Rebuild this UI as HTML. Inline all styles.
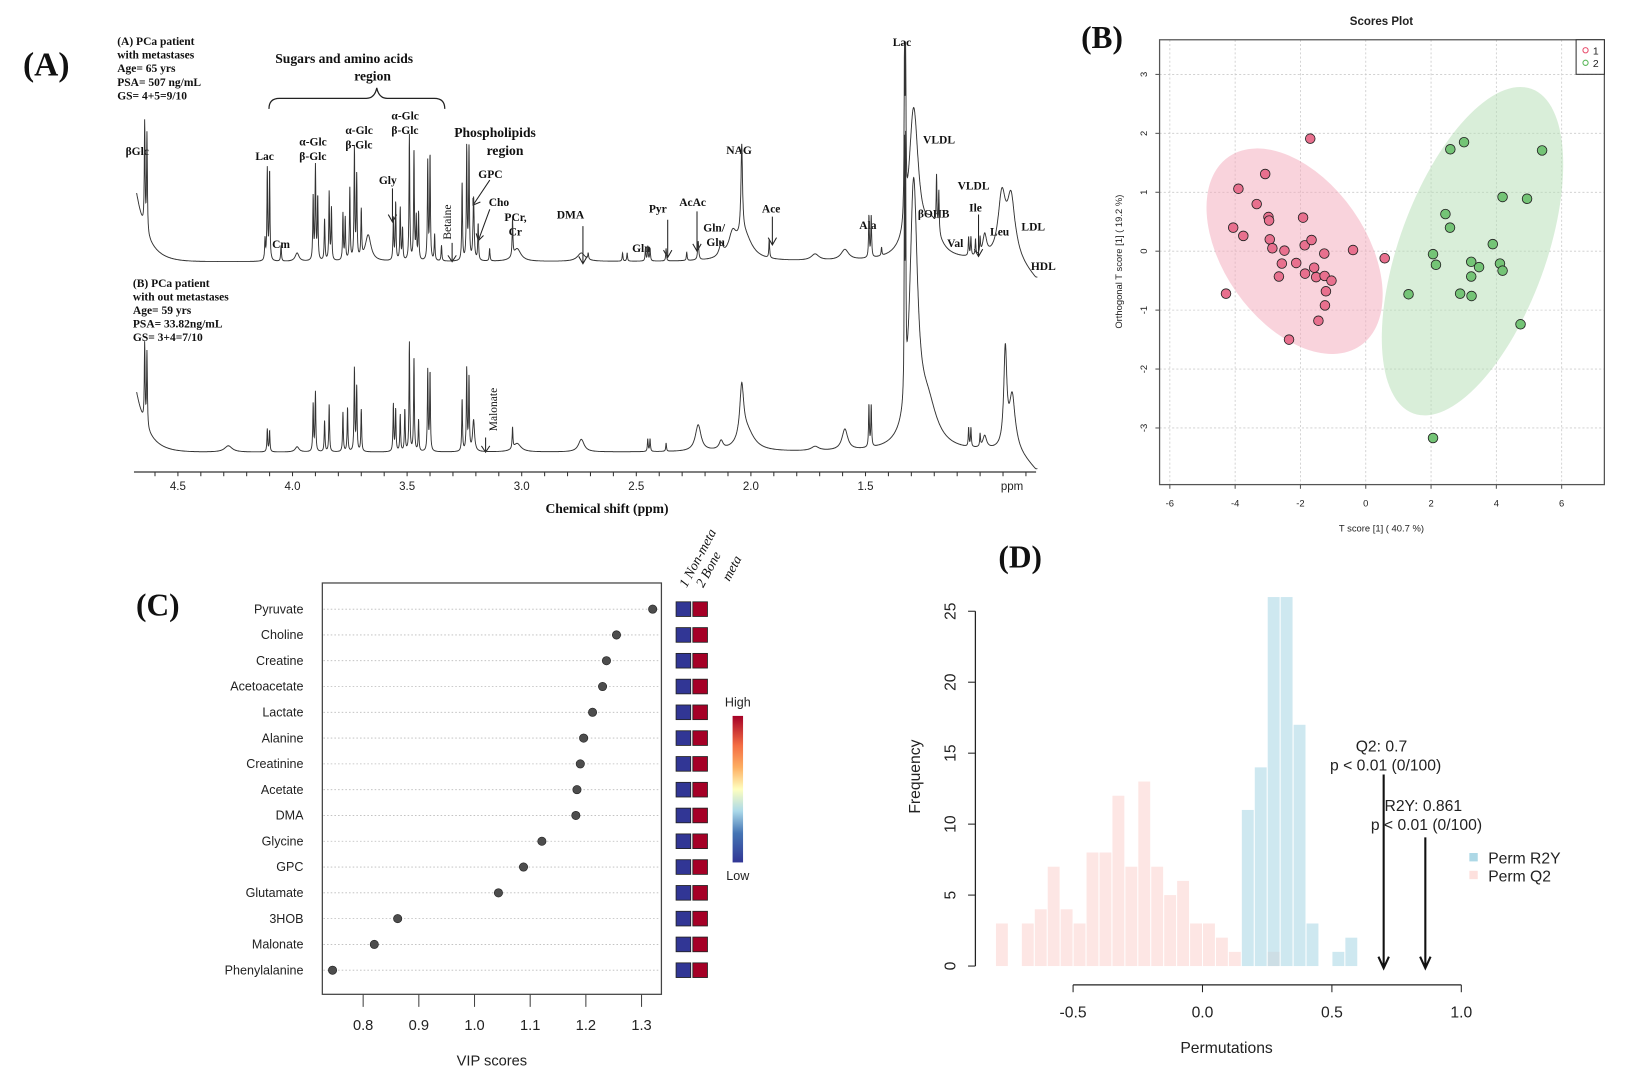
<!DOCTYPE html>
<html><head><meta charset="utf-8">
<style>
html,body{margin:0;padding:0;background:#fff;}
svg{display:block;}
.ser{font-family:"Liberation Serif",serif;font-weight:bold;fill:#111;}
.san{font-family:"Liberation Sans",sans-serif;fill:#222;}
</style></head>
<body>
<svg id="fig" width="1641" height="1086" viewBox="0 0 1568 1037.6" preserveAspectRatio="none" xmlns="http://www.w3.org/2000/svg">
<g id="gA">
  <text class="ser" x="22" y="72" font-size="32">(A)</text>
  <g class="ser" font-size="11">
    <text x="112" y="43">(A) PCa patient</text><text x="112" y="56">with metastases</text>
    <text x="112" y="69">Age= 65 yrs</text><text x="112" y="82">PSA= 507 ng/mL</text><text x="112" y="95">GS= 4+5=9/10</text>
  </g>
  <g class="ser" font-size="11">
    <text x="127" y="274">(B) PCa patient</text><text x="127" y="287">with out metastases</text>
    <text x="127" y="300">Age= 59 yrs</text><text x="127" y="313">PSA= 33.82ng/mL</text><text x="127" y="326">GS= 3+4=7/10</text>
  </g>
  <text class="ser" x="263" y="60" font-size="13">Sugars  and amino acids</text>
  <text class="ser" x="356" y="77" font-size="13" text-anchor="middle">region</text>
  <path d="M257,104 Q257,94 267,94 L350,94 Q358,94 360,84 Q362,94 370,94 L415,94 Q425,94 425,104" fill="none" stroke="#222" stroke-width="1.2"/>
  <text class="ser" x="434" y="131" font-size="13">Phospholipids</text>
  <text class="ser" x="465" y="148" font-size="13">region</text>
  <g class="ser" font-size="11">
    <text x="120" y="148">βGlc</text><text x="244" y="153">Lac</text><text x="260" y="237">Cm</text>
    <text x="286" y="139">α-Glc</text><text x="286" y="153">β-Glc</text>
    <text x="330" y="128">α-Glc</text><text x="330" y="142">β-Glc</text>
    <text x="374" y="114">α-Glc</text><text x="374" y="128">β-Glc</text>
    <text x="362" y="176">Gly</text><text x="457" y="170">GPC</text><text x="467" y="197">Cho</text>
    <text x="482" y="211">PCr,</text><text x="486" y="225">Cr</text>
    <text x="532" y="209">DMA</text><text x="620" y="203">Pyr</text><text x="649" y="197">AcAc</text>
    <text x="604" y="241">Gln</text><text x="672" y="221">Gln/</text><text x="675" y="235">Glu</text>
    <text x="694" y="147">NAG</text><text x="728" y="203">Ace</text><text x="821" y="219">Ala</text>
    <text x="853" y="44">Lac</text><text x="882" y="137">VLDL</text><text x="915" y="181">VLDL</text>
    <text x="877" y="208">βOHB</text><text x="926" y="202">Ile</text><text x="905" y="236">Val</text>
    <text x="946" y="225">Leu</text><text x="976" y="220">LDL</text><text x="985" y="258">HDL</text>
    <text transform="translate(431,229) rotate(-90)" font-weight="normal">Betaine</text>
    <text transform="translate(475,412) rotate(-90)" font-weight="normal">Malonate</text>
  </g>
  <g stroke="#222" stroke-width="1" fill="none">
    <path d="M375,180 L375,212 M371,205 L375,212 L379,205"/>
    <path d="M432,232 L432,250 M428,244 L432,250 L436,244"/>
    <path d="M468,172 L452,196 M452,189 L452,196 L459,193"/>
    <path d="M468,200 L457,230 M455,223 L457,230 L462,225"/>
    <path d="M557,216 L557,252 M553,245 L557,252 L561,245"/>
    <path d="M638,210 L638,246 M634,239 L638,246 L642,239"/>
    <path d="M666,202 L666,240 M662,233 L666,240 L670,233"/>
    <path d="M738,207 L738,234 M734,227 L738,234 L742,227"/>
    <path d="M935,205 L935,245 M931,238 L935,245 L939,238"/>
    <path d="M464,418 L464,432 M460,426 L464,432 L468,426"/>
  </g>
  <g id="specs"></g>
  <g id="axA"></g>
  <text class="ser" x="580" y="490" font-size="13" text-anchor="middle">Chemical shift (ppm)</text>
</g>

<g id="gB">
  <text class="ser" x="1033" y="46" font-size="30">(B)</text>
  <text class="san" x="1320" y="24" font-size="11" font-weight="bold" text-anchor="middle">Scores Plot</text>
  <text class="san" transform="translate(1072,250) rotate(-90)" font-size="9" text-anchor="middle">Orthogonal T score [1] ( 19.2 %)</text>
  <text class="san" x="1320" y="508" font-size="9" text-anchor="middle">T score [1] ( 40.7 %)</text>
  <g id="plotB"></g>
</g>

<g id="gC">
  <text class="ser" x="130" y="588" font-size="30">(C)</text>
  <text class="san" x="470" y="1018" font-size="14" text-anchor="middle">VIP scores</text>
  <g font-family="Liberation Serif,serif" font-style="italic" font-size="13" fill="#111">
    <text transform="translate(656,562) rotate(-62)">1 Non-meta</text>
    <text transform="translate(672,562) rotate(-62)">2 Bone</text>
    <text transform="translate(697,556) rotate(-62)">meta</text>
  </g>
  <defs><linearGradient id="rdylbu" x1="0" y1="1" x2="0" y2="0">
    <stop offset="0" stop-color="#313695"/><stop offset="0.2" stop-color="#4575b4"/><stop offset="0.35" stop-color="#abd9e9"/>
    <stop offset="0.5" stop-color="#ffffbf"/><stop offset="0.65" stop-color="#fdae61"/><stop offset="0.8" stop-color="#f46d43"/><stop offset="1" stop-color="#a50026"/>
  </linearGradient></defs>
  <rect x="700" y="684" width="10" height="140" fill="url(#rdylbu)"/>
  <text class="san" x="705" y="675" font-size="12" text-anchor="middle">High</text>
  <text class="san" x="705" y="841" font-size="12" text-anchor="middle">Low</text>
  <g id="plotC"></g>
</g>

<g id="gD">
  <text class="ser" x="954" y="542" font-size="30">(D)</text>
  <text class="san" transform="translate(879,742) rotate(-90)" font-size="15" text-anchor="middle">Frequency</text>
  <text class="san" x="1172" y="1006" font-size="15" text-anchor="middle">Permutations</text>
  <g id="plotD"></g>
</g>
</svg>
<script>
// ---------- Panel A data ----------
const topPeaks = [[4.645,100,.002],[4.635,95,.002],[4.12,20,.002],[4.11,88,.002],[4.10,85,.002],[4.05,15,.002],[3.98,8,.01],[3.91,60,.002],[3.90,90,.002],[3.89,60,.002],[3.86,40,.002],[3.84,65,.002],[3.83,50,.002],[3.78,45,.002],[3.77,40,.002],[3.75,70,.002],[3.73,105,.002],[3.72,80,.002],[3.70,45,.002],[3.67,25,.015],[3.56,40,.002],[3.55,55,.002],[3.53,50,.002],[3.52,30,.002],[3.49,120,.002],[3.47,105,.002],[3.46,40,.002],[3.45,45,.002],[3.41,95,.002],[3.40,100,.002],[3.38,25,.002],[3.35,15,.002],[3.26,75,.002],[3.24,107,.002],[3.23,108,.002],[3.21,60,.003],[3.19,35,.002],[3.14,12,.002],[3.04,35,.002],[3.02,12,.02],[2.74,8,.02],[2.71,6,.002],[2.56,8,.002],[2.54,8,.002],[2.46,12,.002],[2.45,14,.002],[2.44,12,.002],[2.37,12,.002],[2.28,8,.002],[2.23,18,.003],[2.13,12,.01],[2.08,20,.02],[2.04,85,.004],[2.03,25,.04],[1.92,18,.002],[1.72,6,.02],[1.59,10,.02],[1.485,40,.002],[1.475,40,.002],[1.43,8,.002],[1.33,145,.002],[1.325,140,.002],[1.29,140,.025],[1.21,30,.04],[1.19,50,.002],[1.18,40,.002],[1.05,18,.002],[1.04,18,.002],[1.02,15,.002],[1.00,15,.002],[0.98,20,.01],[0.905,58,.02],[0.865,55,.02]];
const botPeaks = [[4.645,75,.002],[4.635,72,.002],[4.28,6,.02],[4.11,22,.002],[4.10,20,.002],[3.98,5,.01],[3.91,45,.002],[3.90,57,.002],[3.86,30,.002],[3.84,45,.002],[3.78,38,.002],[3.76,42,.002],[3.73,79,.002],[3.72,62,.002],[3.70,40,.002],[3.56,45,.002],[3.55,40,.002],[3.53,35,.002],[3.51,40,.002],[3.49,104,.002],[3.47,90,.002],[3.45,30,.002],[3.41,78,.002],[3.40,75,.002],[3.26,50,.002],[3.24,78,.002],[3.23,70,.002],[3.21,30,.005],[3.04,20,.002],[3.02,8,.02],[2.74,12,.015],[2.45,12,.002],[2.44,12,.002],[2.37,8,.002],[2.23,25,.015],[2.13,8,.01],[2.04,50,.01],[2.02,20,.04],[1.72,4,.02],[1.59,20,.015],[1.485,40,.002],[1.475,40,.002],[1.33,230,.0015],[1.325,220,.0015],[1.29,245,.02],[1.23,40,.05],[1.05,18,.002],[1.04,18,.002],[1.00,12,.002],[0.98,12,.01],[0.89,92,.008],[0.86,50,.015]];
const ppmTicks = [4.5,4.0,3.5,3.0,2.5,2.0,1.5];
const ppmTickLabels = ["4.5","4.0","3.5","3.0","2.5","2.0","1.5"];

// ---------- Panel B data ----------
const group1X = [-1.70,-3.08,-3.90,-3.34,-2.98,-2.96,-1.92,-4.06,-3.75,-2.94,-2.86,-2.49,-1.87,-1.66,-1.27,-0.39,0.58,-2.57,-2.13,-1.58,-1.86,-1.52,-1.26,-1.05,-2.66,-1.22,-1.25,-4.28,-1.45,-2.35];
const group1Y = [1.91,1.31,1.06,0.80,0.58,0.52,0.57,0.40,0.26,0.20,0.05,0.01,0.10,0.19,-0.04,0.02,-0.12,-0.21,-0.20,-0.28,-0.38,-0.44,-0.42,-0.50,-0.43,-0.68,-0.92,-0.72,-1.18,-1.50];
const group2X = [3.01,2.59,5.40,4.19,4.94,2.44,2.58,3.89,2.06,2.15,3.23,3.47,4.11,4.19,3.23,1.31,2.89,3.24,4.74,2.06];
const group2Y = [1.85,1.73,1.71,0.92,0.89,0.63,0.40,0.12,-0.05,-0.23,-0.18,-0.27,-0.21,-0.33,-0.43,-0.73,-0.72,-0.76,-1.24,-3.17];
const scoreTicks = [-6,-4,-2,0,2,4,6];
const orthoTicks = [-3,-2,-1,0,1,2,3];

// ---------- Panel C data ----------
const metabolites = ["Pyruvate","Choline","Creatine","Acetoacetate","Lactate","Alanine","Creatinine","Acetate","DMA","Glycine","GPC","Glutamate","3HOB","Malonate","Phenylalanine"];
const vipScores = [1.320,1.255,1.237,1.230,1.212,1.196,1.190,1.184,1.182,1.121,1.088,1.043,0.862,0.820,0.745];
const vipTicks = [0.8,0.9,1.0,1.1,1.2,1.3];
const vipTickLabels = ["0.8","0.9","1.0","1.1","1.2","1.3"];

// ---------- Panel D data ----------
const binStarts = [-0.80,-0.75,-0.70,-0.65,-0.60,-0.55,-0.50,-0.45,-0.40,-0.35,-0.30,-0.25,-0.20,-0.15,-0.10,-0.05,0.00,0.05,0.10,0.15,0.20,0.25,0.30,0.35,0.40,0.45,0.50,0.55];
const permQ2 = [3,0,3,4,7,4,3,8,8,12,7,13,7,5,6,3,3,2,1,0,0,1,0,0,0,0,0,0];
const permR2Y = [0,0,0,0,0,0,0,0,0,0,0,0,0,0,0,0,0,0,0,11,14,26,26,17,3,0,1,2];
const freqTicks = [0,5,10,15,20,25];
const permTicks = [-0.5,0.0,0.5,1.0];
const permTickLabels = ["-0.5","0.0","0.5","1.0"];
const q2Value = 0.7, r2yValue = 0.861;

const NS = "http://www.w3.org/2000/svg";
function el(tag, attrs, parent){ const e=document.createElementNS(NS,tag); for(const k in attrs) e.setAttribute(k,attrs[k]); parent.appendChild(e); return e; }

// ===== Panel A =====
(function(){
  const g=document.getElementById('specs');
  const xP = p => 170 + (4.5-p)*219;
  function spectrum(peaks, base, rise, name){
    let d='';
    for(let p=4.68; p>=0.75; p-=0.0007){
      let v=rise*Math.exp(-(4.68-p)/0.05);
      for(const [c,h,w] of peaks){ const dx=p-c; v+=h*w*w/(dx*dx+w*w); }
      let b=base + (p<0.84 ? Math.min((0.84-p)*220,18) : 0);
      d+=(d?'L':'M')+xP(p).toFixed(1)+','+(b-v).toFixed(1);
    }
    const path=el('path',{d:d,fill:'none',stroke:'#333','stroke-width':0.9},g);
    
    
  }
  spectrum(topPeaks,250,65,'spectrum-with-metastases');
  spectrum(botPeaks,432,57,'spectrum-without-metastases');
  const ax=document.getElementById('axA');
  el('line',{x1:128,x2:990,y1:451,y2:451,stroke:'#333','stroke-width':1.2},ax);
  for(let p=4.6;p>=0.79;p-=0.1){ const x=xP(p); el('line',{x1:x,x2:x,y1:451,y2:455,stroke:'#333'},ax); }
  ppmTicks.forEach((t,i)=>{ const tx=el('text',{x:xP(t),y:468,'font-size':11,'text-anchor':'middle',class:'san'},ax); tx.textContent=ppmTickLabels[i];
    
     });
  const pu=el('text',{x:967,y:468,'font-size':11,'text-anchor':'middle',class:'san'},ax); pu.textContent='ppm';
  
  
})();

// ===== Panel B =====
(function(){
  const g=document.getElementById('plotB');
  const X=v=>1305+v*31.2, Y=v=>240-v*56.3;
  const L=1108,R=1533,T=38,B=463;
  scoreTicks.forEach(t=>{ el('line',{x1:X(t),x2:X(t),y1:T,y2:B,stroke:'#ccc','stroke-dasharray':'2,2','stroke-width':0.8},g); });
  orthoTicks.forEach(t=>{ el('line',{x1:L,x2:R,y1:Y(t),y2:Y(t),stroke:'#ccc','stroke-dasharray':'2,2','stroke-width':0.8},g); });
  const e1=el('ellipse',{cx:1237,cy:240,rx:110,ry:68,transform:'rotate(55 1237 240)',fill:'#f4a7b9','fill-opacity':0.5},g);
  
  
  const e2=el('ellipse',{cx:1407,cy:240,rx:165,ry:70,transform:'rotate(-70 1407 240)',fill:'#b3deb3','fill-opacity':0.5},g);
  
  
  group1X.forEach((v,i)=>{ const c=el('circle',{cx:X(v),cy:Y(group1Y[i]),r:4.6,fill:'#e8708e',stroke:'#222','stroke-width':0.8},g);
    
     });
  group2X.forEach((v,i)=>{ const c=el('circle',{cx:X(v),cy:Y(group2Y[i]),r:4.6,fill:'#74c476',stroke:'#222','stroke-width':0.8},g);
    
     });
  el('rect',{x:L,y:T,width:R-L,height:B-T,fill:'none',stroke:'#555','stroke-width':1.2},g);
  scoreTicks.forEach(t=>{ el('line',{x1:X(t),x2:X(t),y1:B,y2:B+4,stroke:'#555'},g);
    const tx=el('text',{x:X(t),y:484,'font-size':9,'text-anchor':'middle',class:'san'},g); tx.textContent=t;
    
     });
  orthoTicks.forEach(t=>{ el('line',{x1:L-4,x2:L,y1:Y(t),y2:Y(t),stroke:'#555'},g);
    const tx=el('text',{transform:`translate(1096,${Y(t)}) rotate(-90)`,'font-size':9,'text-anchor':'middle',class:'san'},g); tx.textContent=t;
    
     });
  const lg=el('g',{},g);
  
  
  el('rect',{x:1506,y:38,width:27,height:33,fill:'#fff',stroke:'#333'},lg);
  el('circle',{cx:1515,cy:48,r:2.5,fill:'none',stroke:'#e8506e'},lg);
  el('circle',{cx:1515,cy:60,r:2.5,fill:'none',stroke:'#5cb85c'},lg);
  const t1=el('text',{x:1522,y:52,'font-size':10,class:'san'},lg); t1.textContent='1';
  const t2=el('text',{x:1522,y:64,'font-size':10,class:'san'},lg); t2.textContent='2';
})();

// ===== Panel C =====
(function(){
  const g=document.getElementById('plotC');
  const X=v=>347+(v-0.8)*532, Y=i=>582+i*24.64;
  el('rect',{x:308,y:557,width:324,height:393,fill:'none',stroke:'#444','stroke-width':1.2},g);
  metabolites.forEach((m,i)=>{
    el('line',{x1:309,x2:631,y1:Y(i),y2:Y(i),stroke:'#bbb','stroke-dasharray':'1.5,2','stroke-width':0.8},g);
    const t=el('text',{x:290,y:Y(i)+4,'font-size':12,'text-anchor':'end',class:'san'},g); t.textContent=m;
    
    
    const c=el('circle',{cx:X(vipScores[i]),cy:Y(i),r:4,fill:'#4d4d4d',stroke:'#222','stroke-width':0.6},g);
    
    
    const b=el('rect',{x:646,y:Y(i)-7,width:14,height:14,fill:'#313695',stroke:'#222','stroke-width':0.8},g);
    
    
    const r=el('rect',{x:662,y:Y(i)-7,width:14,height:14,fill:'#a50026',stroke:'#222','stroke-width':0.8},g);
    
    
  });
  vipTicks.forEach((t,i)=>{ el('line',{x1:X(t),x2:X(t),y1:950,y2:962,stroke:'#444'},g);
    const tx=el('text',{x:X(t),y:984,'font-size':14,'text-anchor':'middle',class:'san'},g); tx.textContent=vipTickLabels[i];
    
     });
})();

// ===== Panel D =====
(function(){
  const g=document.getElementById('plotD');
  const X=v=>1149+v*247.3, Y=v=>923-v*13.56, bw=0.05;
  binStarts.forEach((s,i)=>{
    if(permQ2[i]>0){ const r=el('rect',{x:X(s)+0.5,y:Y(permQ2[i]),width:bw*247.3-1,height:permQ2[i]*13.56,fill:'#fde6e4'},g);
      
       }
  });
  binStarts.forEach((s,i)=>{
    if(permR2Y[i]>0){ const r=el('rect',{x:X(s)+0.5,y:Y(permR2Y[i]),width:bw*247.3-1,height:permR2Y[i]*13.56,fill:'#add8e6','fill-opacity':0.6},g);
      
       }
  });
  el('line',{x1:932,x2:932,y1:Y(25),y2:Y(0),stroke:'#222','stroke-width':1.2},g);
  freqTicks.forEach(t=>{ el('line',{x1:925,x2:932,y1:Y(t),y2:Y(t),stroke:'#222'},g);
    const tx=el('text',{transform:`translate(913,${Y(t)}) rotate(-90)`,'font-size':15,'text-anchor':'middle',class:'san'},g); tx.textContent=t;
    
     });
  el('line',{x1:X(-0.5),x2:X(1.0),y1:941,y2:941,stroke:'#222','stroke-width':1.2},g);
  permTicks.forEach((t,i)=>{ el('line',{x1:X(t),x2:X(t),y1:941,y2:948,stroke:'#222'},g);
    const tx=el('text',{x:X(t),y:972,'font-size':15,'text-anchor':'middle',class:'san'},g); tx.textContent=permTickLabels[i];
    
     });
  function arrow(v,y0,name){ const a=el('path',{d:`M${X(v)},${y0} L${X(v)},${Y(0)+2} M${X(v)-5},${Y(0)-9} L${X(v)},${Y(0)+2} L${X(v)+5},${Y(0)-9}`,fill:'none',stroke:'#111','stroke-width':2},g);
    
     }
  arrow(q2Value,740,'q2-arrow'); arrow(r2yValue,800,'r2y-arrow');
  const lines=[["Q2: "+q2Value,1320,718],["p < 0.01 (0/100)",1324,736],["R2Y: "+r2yValue,1360,775],["p < 0.01 (0/100)",1363,793]];
  lines.forEach(([s,x,y])=>{ const t=el('text',{x:x,y:y,'font-size':15,'text-anchor':'middle',class:'san'},g); t.textContent=s;
    
     });
  el('rect',{x:1404,y:815,width:8,height:8,fill:'#add8e6'},g);
  el('rect',{x:1404,y:832,width:8,height:8,fill:'#fde0dd'},g);
  const l1=el('text',{x:1422,y:825,'font-size':15,class:'san'},g); l1.textContent='Perm R2Y';
  
  
  const l2=el('text',{x:1422,y:842,'font-size':15,class:'san'},g); l2.textContent='Perm Q2';
  
  
})();
</script>
</body></html>
